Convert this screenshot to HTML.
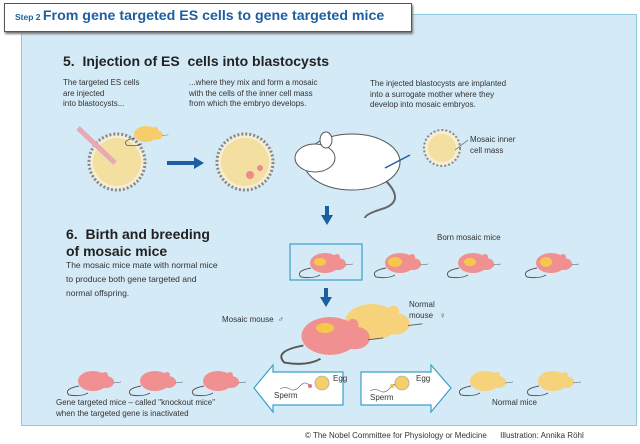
<!DOCTYPE html>
<html><head><meta charset="utf-8"><style>
body{margin:0;width:640px;height:444px;background:#fff;position:relative;overflow:hidden;font-family:"Liberation Sans",sans-serif;color:#222}
.t{position:absolute;font-size:8px;line-height:10.5px;color:#333;white-space:nowrap}
.h{position:absolute;font-weight:bold;font-size:14px;color:#222;line-height:17px}
</style></head><body>
<div style="position:absolute;left:21px;top:14px;width:614px;height:410px;background:#d4eaf6;border:1px solid #8cc9dd"></div>
<div style="position:absolute;left:4px;top:3px;width:406px;height:27px;background:#fff;border:1px solid #555;box-shadow:1px 2px 2px #777"></div>
<div style="position:absolute;left:15px;top:7px;color:#1d5fa0;font-weight:bold;white-space:nowrap"><span style="font-size:8.5px">Step 2 </span><span style="font-size:14.2px">From gene targeted ES cells to gene targeted mice</span></div>
<div class="h" style="left:63px;top:53px">5.&nbsp; Injection of ES&nbsp; cells into blastocysts</div>
<div class="t" style="left:63px;top:78px">The targeted ES cells<br>are injected<br>into blastocysts...</div>
<div class="t" style="left:189px;top:78px">...where they mix and form a mosaic<br>with the cells of the inner cell mass<br>from which the embryo develops.</div>
<div class="t" style="left:370px;top:79px">The injected blastocysts are implanted<br>into a surrogate mother where they<br>develop into mosaic embryos.</div>
<div class="t" style="left:470px;top:135px">Mosaic inner<br>cell mass</div>
<div class="h" style="left:66px;top:226px">6.&nbsp; Birth and breeding<br>of mosaic mice</div>
<div class="t" style="left:66px;top:258px;font-size:8.5px;line-height:14px">The mosaic mice mate with normal mice<br>to produce both gene targeted and<br>normal offspring.</div>
<div class="t" style="left:437px;top:233px">Born mosaic mice</div>
<div class="t" style="left:222px;top:315px">Mosaic mouse&nbsp; ♂</div>
<div class="t" style="left:409px;top:300px">Normal<br>mouse&nbsp;&nbsp; ♀</div>
<div class="t" style="left:56px;top:398px">Gene targeted mice – called "knockout mice"<br>when the targeted gene is inactivated</div>
<div class="t" style="left:492px;top:398px">Normal mice</div>
<div class="t" style="left:305px;top:431px;font-size:8px">© The Nobel Committee for Physiology or Medicine&nbsp;&nbsp;&nbsp;&nbsp;&nbsp; Illustration: Annika Röhl</div>
<svg style="position:absolute;left:0;top:0" width="640" height="444">
<defs>
<g id="m"><path d="M-14,5 Q-30,8 -24,14 Q-12,16 -5,12" fill="none" stroke="#555" stroke-width="1"/><ellipse cx="0" cy="0" rx="15" ry="10"/><ellipse cx="13" cy="1" rx="8" ry="6"/><circle cx="12" cy="-6" r="3"/><line x1="20" y1="2" x2="28" y2="1" stroke="#555" stroke-width=".5"/></g>
</defs>
<circle cx="117" cy="162" r="28" fill="#f5edd6" stroke="#888" stroke-width="3" stroke-dasharray="2 2"/>
<circle cx="117" cy="162" r="24" fill="#f3dfa0"/>
<line x1="78" y1="128" x2="115" y2="163" stroke="#e6a9b5" stroke-width="5"/>
<circle cx="245" cy="162" r="28" fill="#f5edd6" stroke="#888" stroke-width="3" stroke-dasharray="2 2"/>
<circle cx="245" cy="162" r="24" fill="#f3dfa0"/>
<circle cx="250" cy="175" r="4" fill="#ee8a8a"/><circle cx="260" cy="168" r="3" fill="#ee8a8a"/>
<circle cx="442" cy="148" r="18" fill="#f5edd6" stroke="#888" stroke-width="2" stroke-dasharray="2 2"/>
<circle cx="442" cy="148" r="14" fill="#f3dfa0"/>
<path d="M455,150 L468,140" stroke="#555" stroke-width=".6"/>
<path d="M167,163 H195" stroke="#1b5fa0" stroke-width="4"/><path d="M194,157 L204,163 L194,169Z" fill="#1b5fa0"/>
<g fill="#f6cd6a" transform="translate(146,134) scale(.8)"><use href="#m"/></g>
<path d="M385,180 Q405,200 385,208 Q365,214 365,218" fill="none" stroke="#666" stroke-width="2"/>
<ellipse cx="352" cy="162" rx="48" ry="28" fill="#fff" stroke="#555"/>
<ellipse cx="315" cy="158" rx="20" ry="14" fill="#fff" stroke="#555"/>
<ellipse cx="326" cy="140" rx="6" ry="8" fill="#fff" stroke="#555"/>
<path d="M385,168 L410,155" stroke="#1b5fa0" stroke-width="1.5"/>
<path d="M327,206 V216" stroke="#1b5fa0" stroke-width="4"/><path d="M321,215 L327,225 L333,215Z" fill="#1b5fa0"/>
<path d="M326,288 V298" stroke="#1b5fa0" stroke-width="4"/><path d="M320,297 L326,307 L332,297Z" fill="#1b5fa0"/>
<rect x="290" y="244" width="72" height="36" fill="none" stroke="#3aa0c8" stroke-width="1.2"/>
<g fill="#f09090"><g transform="translate(325,263)"><use href="#m"/></g><g transform="translate(400,263)"><use href="#m"/></g><g transform="translate(473,263)"><use href="#m"/></g><g transform="translate(551,263)"><use href="#m"/></g></g>
<g fill="#f5c84c"><ellipse cx="320" cy="262" rx="6" ry="4"/><ellipse cx="395" cy="262" rx="7" ry="5"/><ellipse cx="470" cy="262" rx="6" ry="4"/><ellipse cx="546" cy="262" rx="6" ry="5"/></g>
<g fill="#f6d27a" transform="translate(372,322) scale(1.8)"><use href="#m"/></g>
<g fill="#f09090" transform="translate(330,336) scale(1.9)"><use href="#m"/></g>
<ellipse cx="325" cy="328" rx="9" ry="5" fill="#f5c84c"/>
<g fill="#f09090"><g transform="translate(93,381)"><use href="#m"/></g><g transform="translate(155,381)"><use href="#m"/></g><g transform="translate(218,381)"><use href="#m"/></g></g>
<g fill="#f6d27a"><g transform="translate(485,381)"><use href="#m"/></g><g transform="translate(553,381)"><use href="#m"/></g></g>
<path d="M343,372 H273 V365 L254,388 L273,412 V405 H343Z" fill="#fff" stroke="#3aa0c8" stroke-width="1.2"/>
<path d="M361,372 H431 V365 L451,388 L431,412 V405 H361Z" fill="#fff" stroke="#3aa0c8" stroke-width="1.2"/>
<circle cx="322" cy="383" r="7" fill="#f3d06a" stroke="#999" stroke-width=".6"/>
<circle cx="402" cy="383" r="7" fill="#f3d06a" stroke="#999" stroke-width=".6"/>
<path d="M280,389 q5,-3 10,0 t10,-3 t10,0" fill="none" stroke="#777" stroke-width=".7"/><circle cx="310" cy="386" r="2" fill="#e07090"/>
<path d="M370,391 q5,-3 10,0 t10,-3 t5,-2" fill="none" stroke="#777" stroke-width=".7"/><circle cx="392" cy="386" r="2" fill="#f3c04a"/>
<text x="333" y="381" font-size="8" font-family="Liberation Sans" fill="#333">Egg</text>
<text x="416" y="381" font-size="8" font-family="Liberation Sans" fill="#333">Egg</text>
<text x="274" y="398" font-size="8" font-family="Liberation Sans" fill="#333">Sperm</text>
<text x="370" y="400" font-size="8" font-family="Liberation Sans" fill="#333">Sperm</text>
</svg>
</body></html>
